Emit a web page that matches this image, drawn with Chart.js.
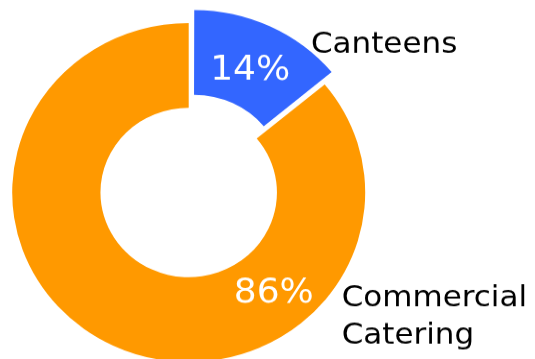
<!DOCTYPE html>
<html>
<head>
<meta charset="utf-8">
<script src="https://cdn.jsdelivr.net/npm/chart.js@4/dist/chart.umd.min.js"></script>
<style>
  html, body { margin: 0; padding: 0; background: #ffffff; }
  #wrap { width: 535px; height: 359px; overflow: hidden; position: relative; }
  #c { display: block; width: 535px; height: 374px; transform: scaleY(0.96); transform-origin: 0 0; }
</style>
</head>
<body>
<div id="wrap"><canvas id="c" width="535" height="374"></canvas></div>
<script>
// Share of meals by outlet type
const categories = ['Canteens', 'Commercial Catering'];
const shares = [14, 86];
const sliceColors = ['#3366ff', '#ff9900'];

const FONT = '"DejaVu Sans", Verdana, sans-serif';

// angle in degrees, clockwise from 12 o'clock -> canvas radians
const toCanvasAngle = deg => deg * Math.PI / 180 - Math.PI / 2;

function drawLines(ctx, lines, x, capCenterY, size, lineHeight) {
  const capH = 0.729 * size;
  const first = capCenterY - ((lines.length - 1) * lineHeight) / 2 + capH / 2;
  lines.forEach((t, k) => ctx.fillText(t, x, first + k * lineHeight));
}

// value labels on the ring and category names beside it
const ringLabels = {
  id: 'ringLabels',
  afterDatasetsDraw(chart, args, opts) {
    const ctx = chart.ctx;
    const meta = chart.getDatasetMeta(0);
    const values = chart.data.datasets[0].data;
    ctx.save();
    meta.data.forEach((arc, i) => {
      const p = arc.getProps(['x', 'y', 'startAngle', 'endAngle', 'innerRadius', 'outerRadius']);
      // ArcElement translates an offset slice by a quarter of its offset option
      const off = (arc.options.offset || 0) / 4;
      const mid = (p.startAngle + p.endAngle) / 2;
      const cx = p.x + off * Math.cos(mid);
      const cy = p.y + off * Math.sin(mid);
      const item = opts.items[i];

      // percentage inside the slice
      const va = item.valueAngle == null ? mid : toCanvasAngle(item.valueAngle);
      const vr = (p.innerRadius + p.outerRadius) / 2;
      ctx.fillStyle = '#ffffff';
      ctx.textAlign = 'center';
      ctx.textBaseline = 'alphabetic';
      ctx.font = opts.valueSize + 'px ' + FONT;
      drawLines(ctx, [values[i] + '%'], cx + vr * Math.cos(va), cy + vr * Math.sin(va),
                opts.valueSize, opts.valueSize * 1.2);

      // category name outside the ring
      const la = toCanvasAngle(item.labelAngle);
      const lr = p.outerRadius + opts.labelGap;
      ctx.fillStyle = '#000000';
      ctx.textAlign = 'left';
      ctx.font = opts.labelSize + 'px ' + FONT;
      const words = chart.data.labels[i].split(' ');
      drawLines(ctx, words, p.x + lr * Math.cos(la), p.y + lr * Math.sin(la),
                opts.labelSize, opts.lineHeight);
    });
    ctx.restore();
  }
};

new Chart(document.getElementById('c'), {
  type: 'doughnut',
  data: {
    labels: categories,
    datasets: [{
      data: shares,
      backgroundColor: sliceColors,
      borderWidth: 0,
      offset: [48, 0],
      hoverOffset: 0
    }]
  },
  options: {
    responsive: false,
    devicePixelRatio: 1,
    animation: false,
    radius: 176.5,
    cutout: '50%',
    layout: { padding: { left: 0, right: 157.6, top: 27, bottom: 0 } },
    events: [],
    plugins: {
      legend: { display: false },
      tooltip: { enabled: false },
      ringLabels: {
        valueSize: 36,
        labelSize: 31,
        lineHeight: 39.6,
        labelGap: 22,
        items: [
          { valueAngle: null, labelAngle: 38 },
          { valueAngle: 140, labelAngle: 129.6 }
        ]
      }
    }
  },
  plugins: [ringLabels]
});
</script>
</body>
</html>
